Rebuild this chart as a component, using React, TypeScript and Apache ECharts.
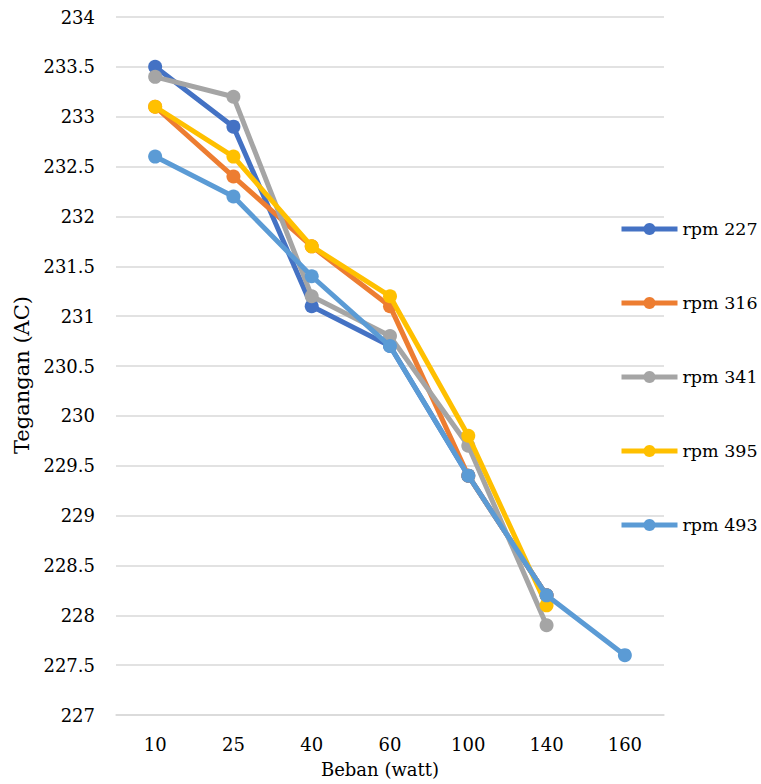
import React, { useEffect, useRef } from "react";
import * as echarts from "echarts";

// Load (watt) on the category axis
const categories = ["10", "25", "40", "60", "100", "140", "160"];

// Voltage readings (AC) for each generator speed
const rpm227 = [233.5, 232.9, 231.1, 230.7, 229.4, 228.2, null];
const rpm316 = [233.1, 232.4, 231.7, 231.1, 229.4, 228.2, null];
const rpm341 = [233.4, 233.2, 231.2, 230.8, 229.7, 227.9, null];
const rpm395 = [233.1, 232.6, 231.7, 231.2, 229.8, 228.1, null];
const rpm493 = [232.6, 232.2, 231.4, 230.7, 229.4, 228.2, 227.6];

const seriesNames = ["rpm 227", "rpm 316", "rpm 341", "rpm 395", "rpm 493"];
const seriesData = [rpm227, rpm316, rpm341, rpm395, rpm493];
const colors = ["#4472C4", "#ED7D31", "#A5A5A5", "#FFC000", "#5B9BD5"];

const FONT = "DejaVu Serif";

export default function App() {
  const ref = useRef<HTMLDivElement>(null);

  useEffect(() => {
    if (!ref.current) return;
    const chart = echarts.init(ref.current, undefined, { renderer: "svg" });
    chart.setOption({
      animation: false,
      backgroundColor: "#ffffff",
      color: colors,
      textStyle: { fontFamily: FONT, color: "#000" },
      grid: { left: 116, right: 97, top: 17, bottom: 69, containLabel: false },
      legend: {
        orient: "vertical",
        left: 614,
        top: 215,
        itemWidth: 56,
        itemHeight: 15,
        itemGap: 56,
        data: seriesNames,
        lineStyle: { width: 5 },
        textStyle: { fontFamily: FONT, fontSize: 17.5, color: "#000" },
      },
      xAxis: {
        type: "category",
        data: categories,
        boundaryGap: true,
        name: "Beban (watt)",
        nameLocation: "middle",
        nameGap: 45,
        nameTextStyle: { fontFamily: FONT, fontSize: 18, color: "#000", padding: [0, 20, 0, 0] },
        axisLine: { show: true, lineStyle: { color: "#d9d9d9", width: 1.5 } },
        axisTick: { show: false },
        axisLabel: { margin: 20, fontFamily: FONT, fontSize: 18, color: "#000" },
      },
      yAxis: {
        type: "value",
        min: 227,
        max: 234,
        interval: 0.5,
        name: "Tegangan (AC)",
        nameLocation: "middle",
        nameRotate: 90,
        nameGap: 84,
        nameTextStyle: { fontFamily: FONT, fontSize: 21, color: "#000", padding: [0, 18, 0, 0] },
        axisLine: { show: false },
        axisTick: { show: false },
        axisLabel: { margin: 21, fontFamily: FONT, fontSize: 18, color: "#000" },
        splitLine: { lineStyle: { color: "#d9d9d9", width: 1.5 } },
      },
      series: seriesNames.map((name, i) => ({
        name,
        type: "line",
        data: seriesData[i],
        symbol: "circle",
        symbolSize: 14,
        connectNulls: false,
        lineStyle: { width: 5, color: colors[i] },
        itemStyle: { color: colors[i] },
        z: 2 + i,
      })),
    });
    return () => chart.dispose();
  }, []);

  return (
    <div
      ref={ref}
      style={{ position: "fixed", left: 0, top: 0, width: 761, height: 784 }}
    />
  );
}
